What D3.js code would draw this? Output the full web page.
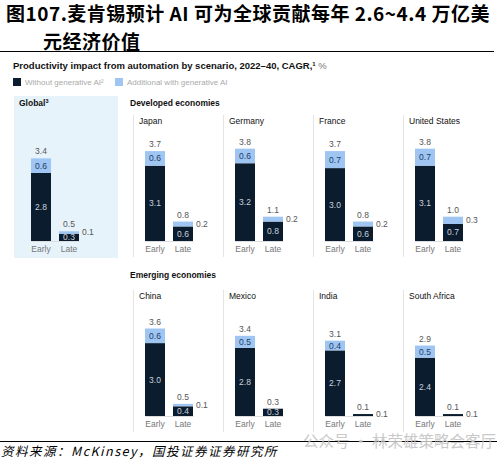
<!DOCTYPE html>
<html>
<head>
<meta charset="utf-8">
<script src="https://cdn.jsdelivr.net/npm/d3@7"></script>
<style>
  body { margin: 0; background: #fff; }
  svg { display: block; font-family: "Liberation Sans", Arial, sans-serif; }
</style>
</head>
<body>
<svg id="chart"></svg>
<script>
const regions = ["Global", "Japan", "Germany", "France", "United States", "China", "Mexico", "India", "South Africa"];
const groups = ["global", "developed", "developed", "developed", "developed", "emerging", "emerging", "emerging", "emerging"];
const scenarios = ["Early", "Late"];
const earlyBase = [2.8, 3.1, 3.2, 3.0, 3.1, 3.0, 2.8, 2.7, 2.4];
const earlyAdd = [0.6, 0.6, 0.6, 0.7, 0.7, 0.6, 0.5, 0.4, 0.5];
const earlyTotal = [3.4, 3.7, 3.8, 3.7, 3.8, 3.6, 3.4, 3.1, 2.9];
const lateBase = [0.3, 0.6, 0.8, 0.6, 0.7, 0.4, 0.3, 0.08, 0.08];
const lateAdd = [0.1, 0.2, 0.2, 0.2, 0.3, 0.1, 0, 0, 0];
const lateAddLabel = ["0.1", "0.2", "0.2", "0.2", "0.3", "0.1", "", "0.1", "0.1"];
const lateTotal = [0.5, 0.8, 1.1, 0.8, 1.0, 0.5, 0.3, 0.1, 0.1];
const legendItems = ["Without generative AI²", "Additional with generative AI"];

const width = 504, height = 465;
const dark = "#0b1c2e", light = "#9fc5f3";
const fmt = d3.format(".1f");

const svg = d3.select("#chart").attr("width", width).attr("height", height);
svg.append("rect").attr("width", width).attr("height", height).attr("fill", "#fff");

// title, two lines
const titleLines = [
    { x: 6, y: 21, t: "图107.麦肯锡预计 AI 可为全球贡献每年 2.6~4.4 万亿美" },
    { x: 43, y: 49, t: "元经济价值" }
];
titleLines.forEach(l => {
    svg.append("text").attr("x", l.x).attr("y", l.y)
        .attr("font-family", "'Noto Sans CJK SC', sans-serif")
        .attr("font-weight", 700).attr("font-size", 19).attr("letter-spacing", 0.5)
        .attr("fill", "#000").text(l.t);
});
svg.append("line").attr("x1", 0).attr("x2", 494).attr("y1", 51.5).attr("y2", 51.5)
    .attr("stroke", "#000").attr("stroke-width", 1.2);

// subtitle
const sub = svg.append("text").attr("x", 13).attr("y", 69)
    .attr("font-size", 9.5).attr("font-weight", 700).attr("fill", "#111");
sub.append("tspan").text("Productivity impact from automation by scenario, 2022–40, CAGR,");
sub.append("tspan").attr("font-size", 6).attr("dy", -3).text("1");
sub.append("tspan").attr("dy", 3).attr("font-weight", 400).attr("fill", "#777").text(" %");

// legend
const legX = [13, 115];
legendItems.forEach((t, i) => {
    svg.append("rect").attr("x", legX[i]).attr("y", 78).attr("width", 8).attr("height", 8)
        .attr("fill", i === 0 ? dark : light);
    svg.append("text").attr("x", legX[i] + 12).attr("y", 85)
        .attr("font-size", 8).attr("fill", "#aaa").text(t);
});

// global background
svg.append("rect").attr("x", 14).attr("y", 96).attr("width", 104).attr("height", 162)
    .attr("fill", "#e6f3fb");

svg.append("text").attr("x", 130).attr("y", 106).attr("font-size", 8.5).attr("font-weight", 700)
    .attr("fill", "#111").text("Developed economies");
svg.append("text").attr("x", 130).attr("y", 278).attr("font-size", 8.5).attr("font-weight", 700)
    .attr("fill", "#111").text("Emerging economies");

const pxPerUnit = 24.3;
const rowBase = { global: 241, developed: 241, emerging: 416 };

let devIdx = 0, emIdx = 0;
regions.forEach((name, i) => {
    const grp = groups[i];
    let left;
    if (grp === "global") left = 19;
    else if (grp === "developed") left = 133 + 90 * devIdx++;
    else left = 133 + 90 * emIdx++;
    const base = rowBase[grp];
    const top = base - 4 * pxPerUnit;

    const g = svg.append("g");

    if (grp !== "global") {
        g.append("line").attr("x1", left + 0.5).attr("x2", left + 0.5)
            .attr("y1", base - 126).attr("y2", base + 16)
            .attr("stroke", "#e4e4e4").attr("stroke-width", 1);
    }

    // panel title
    const tt = g.append("text").attr("x", left + 6).attr("y", grp === "global" ? 106 : base - 117)
        .attr("font-size", 8.5).attr("fill", "#111");
    if (grp === "global") {
        tt.attr("x", 19).attr("font-weight", 700).text(name);
        tt.append("tspan").attr("font-size", 5.5).attr("dy", -3).text("3");
    } else tt.text(name);

    const x = d3.scaleBand().domain(scenarios)
        .range([left + 12, left + 60]).paddingInner(0.2857);
    const y = d3.scaleLinear().domain([0, 4]).range([base, top]);

    const bars = [
        { s: "Early", b: earlyBase[i], a: earlyAdd[i], tot: earlyTotal[i], side: "" },
        { s: "Late", b: lateBase[i], a: lateAdd[i], tot: lateTotal[i], side: lateAddLabel[i] }
    ];

    const ax = g.append("g").attr("transform", `translate(0,${base})`)
        .call(d3.axisBottom(x).tickSize(0).tickPadding(5));
    ax.select(".domain").attr("stroke", "#ddd");
    ax.selectAll("text").attr("font-size", 8.5).attr("fill", "#777")
        .attr("font-family", "'Liberation Sans', Arial, sans-serif");

    bars.forEach(d => {
        const bx = x(d.s), bw = x.bandwidth();
        g.append("rect").attr("x", bx).attr("width", bw)
            .attr("y", y(d.b)).attr("height", y(0) - y(d.b)).attr("fill", dark);
        if (d.a > 0) {
            g.append("rect").attr("x", bx).attr("width", bw)
                .attr("y", y(d.b + d.a)).attr("height", y(d.b) - y(d.b + d.a)).attr("fill", light);
        }
        const cx = bx + bw / 2;
        // total above
        g.append("text").attr("x", cx).attr("y", y(d.b + d.a) - 4)
            .attr("text-anchor", "middle").attr("font-size", 8.5).attr("fill", "#555")
            .text(fmt(d.tot));
        if (d.b >= 0.2) {
            g.append("text").attr("x", cx).attr("y", (y(d.b) + y(0)) / 2)
                .attr("dy", "0.35em").attr("text-anchor", "middle").attr("font-size", 8.5)
                .attr("fill", "#c9d2dc").text(fmt(d.b));
        }
        if (d.s === "Early") {
            g.append("text").attr("x", cx).attr("y", (y(d.b) + y(d.b + d.a)) / 2)
                .attr("dy", "0.35em").attr("text-anchor", "middle").attr("font-size", 8.5)
                .attr("fill", "#1d3d63").text(fmt(d.a));
        } else if (d.side) {
            g.append("text").attr("x", bx + bw + 3).attr("y", (y(d.b) + y(d.b + d.a)) / 2)
                .attr("dy", "0.35em").attr("font-size", 8.5).attr("fill", "#555").text(d.side);
        }
    });
});

// footer
svg.append("line").attr("x1", 0).attr("x2", 497).attr("y1", 441.5).attr("y2", 441.5)
    .attr("stroke", "#000").attr("stroke-width", 1);
svg.append("text").attr("x", 303).attr("y", 447)
    .attr("font-family", "'Noto Sans CJK SC', sans-serif").attr("font-size", 15.5)
    .attr("fill", "#c4c4c4").attr("opacity", 0.9).text("公众号 · 林荣雄策略会客厅");
svg.append("text").attr("x", 1).attr("y", 456)
    .attr("font-family", "'Noto Sans CJK SC', sans-serif").attr("font-style", "italic")
    .attr("font-size", 12.5).attr("letter-spacing", 1.5).attr("fill", "#000")
    .text("资料来源：McKinsey，国投证券证券研究所");
</script>
</body>
</html>
